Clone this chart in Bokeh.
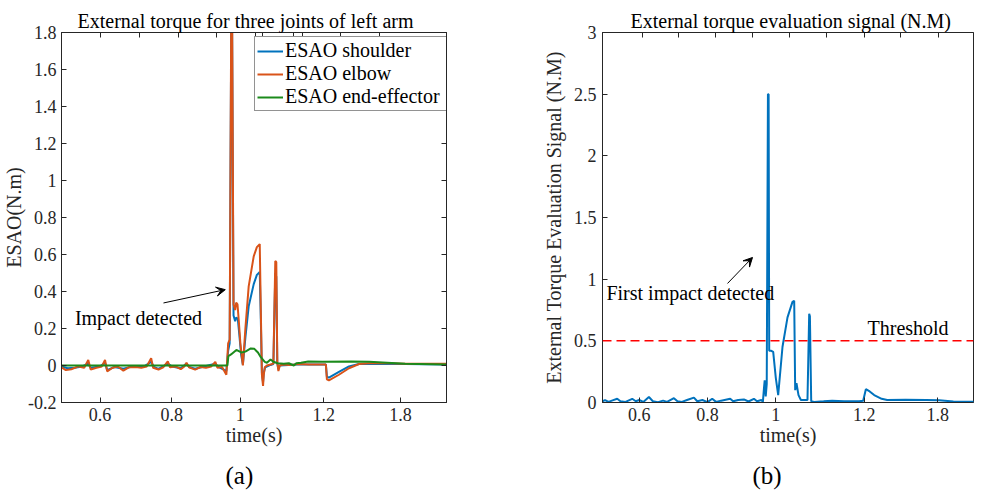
from bokeh.plotting import figure
from bokeh.layouts import row
from bokeh.models import (FixedTicker, LinearAxis, Range1d, Label, Arrow, VeeHead,
                          Span, Legend, LegendItem, Title)
from bokeh.embed import file_html
from bokeh.resources import INLINE

FONT = "Liberation Serif"
AX = "#262626"
BLUE = "#0072BD"
ORANGE = "#D95319"
GREEN = "#1B8A1B"

# ---------------- data ----------------
tick_labels = ["0.6", "0.8", "1", "1.2", "1.8"]
a_ticks = [0.6, 0.8, 0.991, 1.223, 1.437]
b_ticks = [0.6, 0.8, 1.0, 1.259, 1.474]
a_top_ticks = [0.6, 0.7098, 0.8187, 0.9257, 1.033, 1.0514, 1.1399, 1.1631, 1.2704, 1.3774]
b_top_ticks = [0.6097, 0.7151, 0.8246, 0.9318, 1.0413, 1.1485, 1.2589, 1.3663, 1.4755]
a_yticks = [-0.2, 0, 0.2, 0.4, 0.6, 0.8, 1, 1.2, 1.4, 1.6, 1.8]
a_ylabels = ["-0.2", "0", "0.2", "0.4", "0.6", "0.8", "1", "1.2", "1.4", "1.6", "1.8"]
b_yticks = [0, 0.5, 1, 1.5, 2, 2.5, 3]
b_ylabels = ["0", "0.5", "1", "1.5", "2", "2.5", "3"]

shoulder = [(0.4927, -0.005), (0.51, -0.015), (0.53, -0.012), (0.55, -0.005), (0.5673, 0.01),
            (0.574, -0.012), (0.6, -0.005), (0.614, 0.015), (0.62, -0.025), (0.64, -0.008),
            (0.665, -0.018), (0.69, -0.005), (0.72, -0.008), (0.7425, 0.02), (0.75, -0.008),
            (0.763, -0.018), (0.7888, 0.01), (0.80, -0.005), (0.825, -0.015), (0.841, 0.01),
            (0.848, -0.008), (0.865, -0.018), (0.89, -0.005), (0.9212, 0.01), (0.93, -0.008),
            (0.952, -0.03), (0.957, 0.08), (0.9612, 0.12), (0.9668, 2.3), (0.9720, 0.27),
            (0.9765, 0.24), (0.98, 0.26), (0.984, 0.25), (0.988, 0.17), (0.993, 0.06),
            (0.998, 0.005), (1.005, 0.15), (1.0142, 0.32), (1.0282, 0.44), (1.037, 0.49),
            (1.045, 0.505), (1.048, 0.25), (1.051, -0.04), (1.0542, -0.09), (1.0562, -0.04),
            (1.06, -0.01), (1.075, 0.003), (1.083, 0.008), (1.0883, 0.5), (1.0911, 0.48),
            (1.0939, 0.01), (1.097, -0.02), (1.1008, 0.0), (1.15, 0.005), (1.2293, 0.005),
            (1.2321, -0.06), (1.2377, -0.066), (1.2656, -0.035), (1.2936, -0.005),
            (1.3215, 0.008), (1.3494, 0.01), (1.45, 0.008), (1.5653, 0.005)]

elbow = [(0.4927, -0.01), (0.505, -0.025), (0.52, -0.02), (0.54, -0.005), (0.556, -0.012),
         (0.5673, 0.03), (0.574, -0.022), (0.59, -0.012), (0.605, -0.005), (0.614, 0.03),
         (0.62, -0.032), (0.635, -0.012), (0.65, -0.005), (0.665, -0.028), (0.68, -0.01),
         (0.70, -0.008), (0.715, -0.012), (0.73, -0.005), (0.7425, 0.04), (0.748, -0.012),
         (0.763, -0.022), (0.776, -0.01), (0.7888, 0.022), (0.795, -0.01), (0.81, -0.005),
         (0.825, -0.02), (0.835, -0.005), (0.841, 0.015), (0.848, -0.01), (0.865, -0.022),
         (0.88, -0.008), (0.895, -0.012), (0.91, -0.005), (0.9212, 0.02), (0.927, -0.012),
         (0.94, -0.008), (0.952, -0.05), (0.957, 0.12), (0.9612, 0.14), (0.9668, 2.4),
         (0.9720, 0.33), (0.9765, 0.30), (0.9793, 0.34), (0.983, 0.33), (0.9863, 0.25),
         (0.991, 0.12), (0.998, 0.0), (1.005, 0.2), (1.0142, 0.428), (1.0282, 0.59),
         (1.037, 0.64), (1.045, 0.656), (1.048, 0.3), (1.051, -0.05), (1.0542, -0.11),
         (1.0562, -0.05), (1.059, -0.01), (1.065, 0.0), (1.075, 0.005), (1.083, 0.01),
         (1.0883, 0.565), (1.0911, 0.56), (1.0939, 0.02), (1.097, -0.03), (1.1008, 0.0),
         (1.112, 0.005), (1.126, 0.002), (1.154, 0.008), (1.182, 0.005), (1.21, 0.005),
         (1.2293, 0.005), (1.2321, -0.075), (1.2377, -0.08), (1.2656, -0.05),
         (1.2936, -0.015), (1.3215, 0.008), (1.3494, 0.012), (1.40, 0.012), (1.45, 0.01),
         (1.5653, 0.01)]

end_effector = [(0.4927, 0.0), (0.955, 0.0), (0.9575, 0.05), (0.965, 0.06), (0.98, 0.084),
                (0.9947, 0.07), (1.005, 0.075), (1.02, 0.092), (1.03, 0.09), (1.04, 0.07),
                (1.048, 0.045), (1.059, 0.02), (1.065, 0.015), (1.075, 0.032), (1.083, 0.02),
                (1.095, 0.012), (1.112, 0.01), (1.126, 0.012), (1.14, 0.0), (1.147, 0.012),
                (1.16, 0.015), (1.18, 0.022), (1.22, 0.02), (1.30, 0.022), (1.35, 0.02),
                (1.40, 0.015), (1.45, 0.01), (1.5653, 0.005)]

signal = [(0.4925, 0.01), (0.50, 0.02), (0.51, 0.005), (0.52, 0.015), (0.5356, 0.03),
          (0.545, 0.01), (0.56, 0.005), (0.5795, 0.03), (0.59, 0.01), (0.60, 0.02),
          (0.612, 0.005), (0.6284, 0.045), (0.64, 0.01), (0.655, 0.003), (0.67, 0.015),
          (0.6816, 0.005), (0.7016, 0.035), (0.712, 0.01), (0.725, 0.005), (0.74, 0.02),
          (0.7602, 0.04), (0.77, 0.01), (0.785, 0.02), (0.80, 0.003), (0.8138, 0.03),
          (0.825, 0.005), (0.84, 0.015), (0.8665, 0.03), (0.875, 0.01), (0.89, 0.02),
          (0.9066, 0.025), (0.92, 0.008), (0.9359, 0.03), (0.945, 0.01), (0.958, 0.02),
          (0.9622, 0.005), (0.9655, 0.12), (0.9675, 0.18), (0.9705, 0.05), (0.9735, 0.15),
          (0.977, 2.5), (0.979, 2.5), (0.9807, 0.42), (0.9856, 0.42), (0.9924, 0.41),
          (1.0, 0.2), (1.007, 0.06), (1.0196, 0.45), (1.0343, 0.69), (1.0489, 0.816),
          (1.0539, 0.824), (1.0568, 0.1), (1.0606, 0.156), (1.0665, 0.06), (1.0735, 0.02),
          (1.0928, 0.02), (1.0978, 0.72), (1.0999, 0.7), (1.1037, 0.01), (1.1124, 0.005),
          (1.14, 0.01), (1.1651, 0.015), (1.20, 0.01), (1.2442, 0.01), (1.2559, 0.015),
          (1.2638, 0.108), (1.275, 0.09), (1.2881, 0.06), (1.31, 0.03), (1.3262, 0.02),
          (1.38, 0.022), (1.44, 0.02), (1.4785, 0.018), (1.52, 0.008), (1.6015, 0.005)]

threshold = 0.5


def unzip(pairs):
    return [p[0] for p in pairs], [p[1] for p in pairs]


def style_axis(ax, label_size="18px"):
    ax.axis_line_color = AX
    ax.major_tick_line_color = AX
    ax.major_tick_in = 5
    ax.major_tick_out = 0
    ax.minor_tick_line_color = None
    ax.major_label_text_font = FONT
    ax.major_label_text_font_size = label_size
    ax.major_label_text_color = AX
    ax.axis_label_text_font = FONT
    ax.axis_label_text_font_style = "normal"
    ax.axis_label_text_font_size = "20px"
    ax.axis_label_text_color = AX


def tick_only_axis(p, ticks, side):
    ax = LinearAxis(ticker=FixedTicker(ticks=ticks))
    style_axis(ax, "0px")
    ax.major_label_standoff = 0
    ax.major_label_overrides = {t: "" for t in ticks}
    p.add_layout(ax, side)


def base_figure(xr, yr, fw, fh, bl, br):
    p = figure(frame_width=fw, frame_height=fh, x_range=xr, y_range=yr,
               output_backend="svg", toolbar_location=None,
               min_border_left=bl, min_border_right=br, min_border_top=32,
               min_border_bottom=76, background_fill_color="white",
               border_fill_color="white")
    p.grid.visible = False
    p.outline_line_color = AX
    p.outline_line_width = 1
    p.outline_line_alpha = 1
    p.title.text_font = FONT
    p.title.text_font_size = "20px"
    p.title.text_font_style = "normal"
    p.title.text_color = "black"
    p.title.align = "left"
    p.title.standoff = 2
    for ax in p.xaxis + p.yaxis:
        style_axis(ax)
    p.xaxis.major_label_standoff = 5
    p.xaxis.axis_label_standoff = 0
    p.yaxis.major_label_standoff = 5
    p.yaxis.axis_label_standoff = 0
    return p


def caption(p, text, offset):
    p.add_layout(Title(text=text, align="left", offset=offset, standoff=23,
                       text_font=FONT, text_font_size="25px", text_font_style="normal",
                       text_color="black"), "below")


# ---------------- (a) ----------------
p1 = base_figure(Range1d(0.4927, 1.5653), Range1d(-0.2, 1.8), 385, 370, 54, 81)
p1.title.text = "External torque for three joints of left arm"
p1.title.offset = 16
p1.xaxis.ticker = FixedTicker(ticks=a_ticks)
p1.xaxis.major_label_overrides = dict(zip(a_ticks, tick_labels))
p1.yaxis.ticker = FixedTicker(ticks=a_yticks)
p1.yaxis.major_label_overrides = dict(zip(a_yticks, a_ylabels))
p1.xaxis.axis_label = "time(s)"
p1.yaxis.axis_label = "ESAO(N.m)"
tick_only_axis(p1, a_top_ticks, "above")
tick_only_axis(p1, a_yticks, "right")

xs, ys = unzip(shoulder)
r1 = p1.line(xs, ys, line_color=BLUE, line_width=2)
xs, ys = unzip(elbow)
r2 = p1.line(xs, ys, line_color=ORANGE, line_width=2)
xs, ys = unzip(end_effector)
r3 = p1.line(xs, ys, line_color=GREEN, line_width=2)

legend = Legend(items=[LegendItem(label="ESAO shoulder", renderers=[r1]),
                       LegendItem(label="ESAO elbow", renderers=[r2]),
                       LegendItem(label="ESAO end-effector", renderers=[r3])],
                location=(193, 291), margin=0, padding=2, spacing=-2,
                label_text_font=FONT, label_text_font_size="20px",
                label_text_color="black", glyph_width=26, glyph_height=20,
                label_height=20, label_width=160, label_standoff=2,
                border_line_color=AX, border_line_width=1, background_fill_alpha=1)
p1.add_layout(legend)

p1.add_layout(Arrow(end=VeeHead(size=9, fill_color="black", line_color="black"),
                    x_start=0.7768, y_start=0.338, x_end=0.949, y_end=0.41,
                    line_color="black", line_width=1))
p1.add_layout(Label(x=0.530, y=0.256, text="Impact detected", text_font=FONT,
                    text_font_size="20px", text_baseline="middle", text_color="black"))
caption(p1, "(a)", 164)

# ---------------- (b) ----------------
p2 = base_figure(Range1d(0.4925, 1.579), Range1d(0, 3), 371, 370, 75, 1)
p2.title.text = "External torque evaluation signal (N.M)"
p2.title.offset = 28
p2.xaxis.ticker = FixedTicker(ticks=b_ticks)
p2.xaxis.major_label_overrides = dict(zip(b_ticks, tick_labels))
p2.yaxis.ticker = FixedTicker(ticks=b_yticks)
p2.yaxis.major_label_overrides = dict(zip(b_yticks, b_ylabels))
p2.yaxis.major_label_standoff = 6
p2.yaxis.axis_label_standoff = 6
p2.xaxis.axis_label = "time(s)"
p2.yaxis.axis_label = "External Torque Evaluation Signal (N.M)"
tick_only_axis(p2, b_top_ticks, "above")

xs, ys = unzip(signal)
p2.line(xs, ys, line_color=BLUE, line_width=2)
p2.add_layout(Span(location=threshold, dimension="width", line_color="#FF0000",
                   line_width=1.5, line_dash="9 5"))
p2.add_layout(Label(x=1.2686, y=0.608, text="Threshold", text_font=FONT,
                    text_font_size="20px", text_baseline="middle", text_color="black"))
p2.add_layout(Arrow(end=VeeHead(size=9, fill_color="black", line_color="black"),
                    x_start=0.8586, y_start=0.965, x_end=0.9318, y_end=1.176,
                    line_color="black", line_width=1))
p2.add_layout(Label(x=0.504, y=0.884, text="First impact detected", text_font=FONT,
                    text_font_size="20px", text_baseline="middle", text_color="black"))
caption(p2, "(b)", 150)

layout = row(p1, p2)
open("out.html", "w").write(file_html(layout, INLINE))
